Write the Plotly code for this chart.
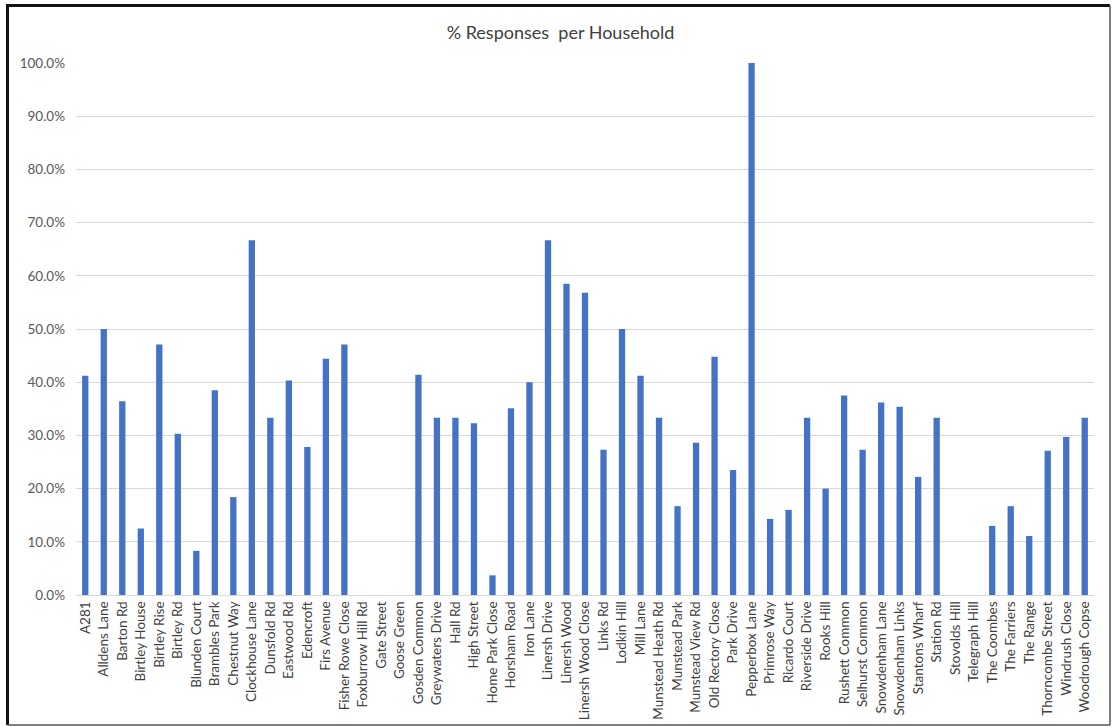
import plotly.graph_objects as go

streets = [
    "A281", "Alldens Lane", "Barton Rd", "Birtley House", "Birtley Rise", "Birtley Rd",
    "Blunden Court", "Brambles Park", "Chestnut Way", "Clockhouse Lane", "Dunsfold Rd",
    "Eastwood Rd", "Edencroft", "Firs Avenue", "Fisher Rowe Close", "Foxburrow Hill Rd",
    "Gate Street", "Goose Green", "Gosden Common", "Greywaters Drive", "Hall Rd",
    "High Street", "Home Park Close", "Horsham Road", "Iron Lane", "Linersh Drive",
    "Linersh Wood", "Linersh Wood Close", "Links Rd", "Lodkin Hill", "Mill Lane",
    "Munstead Heath Rd", "Munstead Park", "Munstead View Rd", "Old Rectory Close",
    "Park Drive", "Pepperbox Lane", "Primrose Way", "Ricardo Court", "Riverside Drive",
    "Rooks Hill", "Rushett Common", "Selhurst Common", "Snowdenham Lane",
    "Snowdenham Links", "Stantons Wharf", "Station Rd", "Stovolds Hill", "Telegraph Hill",
    "The Coombes", "The Farriers", "The Range", "Thorncombe Street", "Windrush Close",
    "Woodrough Copse",
]

pct_responses = [
    41.2, 50.0, 36.4, 12.5, 47.1, 30.3,
    8.3, 38.5, 18.4, 66.7, 33.3,
    40.3, 27.8, 44.4, 47.1, 0.0,
    0.0, 0.0, 41.4, 33.3, 33.3,
    32.3, 3.7, 35.1, 40.0, 66.7,
    58.5, 56.8, 27.3, 50.0, 41.2,
    33.3, 16.7, 28.6, 44.8,
    23.5, 100.0, 14.3, 16.0, 33.3,
    20.0, 37.5, 27.3, 36.2,
    35.4, 22.2, 33.3, 0.0, 0.0,
    13.0, 16.7, 11.1, 27.1, 29.7,
    33.3,
]

y_ticks = [0, 10, 20, 30, 40, 50, 60, 70, 80, 90, 100]

FONT = "Lato, Carlito, Liberation Sans, sans-serif"

fig = go.Figure(
    go.Bar(
        x=streets,
        y=pct_responses,
        marker=dict(color="#4472C4", line=dict(width=0)),
    )
)

# plot area in pixels
L, R, T, B = 76, 1094, 63, 595
W, H = 1112, 727


def px_x(p):
    return (p - L) / (R - L)


def px_y(p):
    return (B - p) / (B - T)


def line(x0, y0, x1, y1, color, width):
    return dict(
        type="line", xref="paper", yref="paper",
        x0=px_x(x0), y0=px_y(y0), x1=px_x(x1), y1=px_y(y1),
        line=dict(color=color, width=width), layer="above",
    )


fig.update_layout(
    width=W,
    height=H,
    margin=dict(l=L, r=W - R, t=T, b=H - B, autoexpand=False),
    paper_bgcolor="white",
    plot_bgcolor="white",
    bargap=0.66,
    showlegend=False,
    title=dict(
        text="% Responses  per Household",
        x=0.504,
        xanchor="center",
        y=1 - 33 / H,
        yanchor="middle",
        font=dict(family=FONT, size=18, color="#404040"),
    ),
    font=dict(family=FONT, color="#595959"),
    xaxis=dict(
        tickangle=-90,
        tickfont=dict(size=13.5, color="#404040"),
        showgrid=False,
        showline=True,
        linecolor="#d9d9d9",
        linewidth=1,
        ticks="",
        automargin=False,
        range=[-0.5, len(streets) - 0.5],
    ),
    yaxis=dict(
        range=[0, 100],
        tickvals=y_ticks,
        ticktext=[f"{v:.1f}%" for v in y_ticks],
        tickfont=dict(size=13.5, color="#595959"),
        showgrid=True,
        gridcolor="#d9d9d9",
        gridwidth=1,
        zeroline=False,
        ticks="",
        automargin=False,
        ticklabelstandoff=10,
    ),
    shapes=[
        line(7.5, 5.5, 7.5, 725, "#111111", 3),
        line(6, 5.5, 1110, 5.5, "#111111", 3),
        line(1110, 5.5, 1110, 725, "#555555", 1.5),
        line(7.5, 725, 1110, 725, "#555555", 1.5),
    ],
)

fig.write_html(
    "out.html",
    config={"displayModeBar": False},
    post_script="document.body.style.margin='0';document.body.style.overflow='hidden';",
)
